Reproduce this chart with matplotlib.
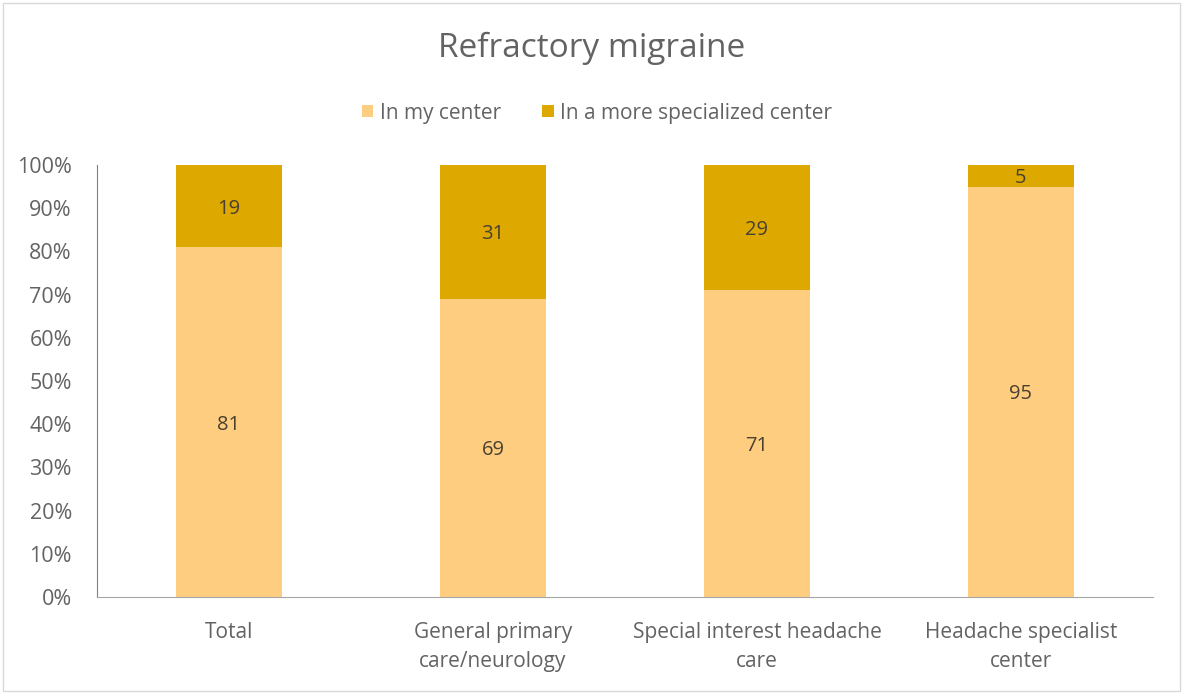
import matplotlib
matplotlib.use("Agg")
import matplotlib.pyplot as plt
from matplotlib.patches import Rectangle

categories = ["Total", "General primary\ncare/neurology", "Special interest headache\ncare", "Headache specialist\ncenter"]
in_my_center = [81, 69, 71, 95]
more_specialized = [19, 31, 29, 5]
series_names = ["In my center", "In a more specialized center"]
yticks = [0, 10, 20, 30, 40, 50, 60, 70, 80, 90, 100]

c_light = "#FFCD80"
c_dark = "#DDA800"
txt = "#636363"

plt.rcParams['font.family'] = ['Open Sans', 'DejaVu Sans']

W, H = 1183, 694
fig = plt.figure(figsize=(W/100, H/100), dpi=100)
fig.patches.append(Rectangle((3/W, 3/H), 1-6/W, 1-6/H, transform=fig.transFigure,
                             fill=False, edgecolor="#D9D9D9", linewidth=1))

ax = fig.add_axes([97/W, 1-597/H, (1153-97)/W, (597-165)/H])
x = list(range(len(categories)))
ax.bar(x, in_my_center, width=0.4, color=c_light, label=series_names[0])
ax.bar(x, more_specialized, width=0.4, bottom=in_my_center, color=c_dark, label=series_names[1])

for i in x:
    ax.text(i, in_my_center[i]/2, str(in_my_center[i]), ha="center", va="center_baseline", fontsize=14.5, color="#4A4030")
    ax.text(i, in_my_center[i] + more_specialized[i]/2, str(more_specialized[i]), ha="center", va="center_baseline", fontsize=14.5, color="#4A4030")

ax.set_xlim(-0.5, 3.5)
ax.set_ylim(0, 100)
ax.set_yticks(yticks)
ax.set_yticklabels([f"{v}%" for v in yticks], fontsize=15.5, color=txt)
ax.set_xticks(x)
ax.set_xticklabels(categories, fontsize=15, color=txt, linespacing=1.5)
ax.tick_params(axis="both", length=0)
ax.tick_params(axis="y", pad=18)
ax.tick_params(axis="x", pad=18)
for s in ["top", "right"]:
    ax.spines[s].set_visible(False)
ax.spines["left"].set_color("#808080")
ax.spines["bottom"].set_color("#A6A6A6")

fig.text(592/W, 1-48/H, "Refractory migraine", ha="center", va="center", fontsize=24, color=txt)
leg = fig.legend(loc="center", bbox_to_anchor=(597/W, 1-113/H), ncol=2, frameon=False,
                 fontsize=15, handlelength=0.55, handleheight=0.55, handletextpad=0.3, columnspacing=2.0)
for t in leg.get_texts():
    t.set_color(txt)

fig.savefig("out.png", dpi=100)
